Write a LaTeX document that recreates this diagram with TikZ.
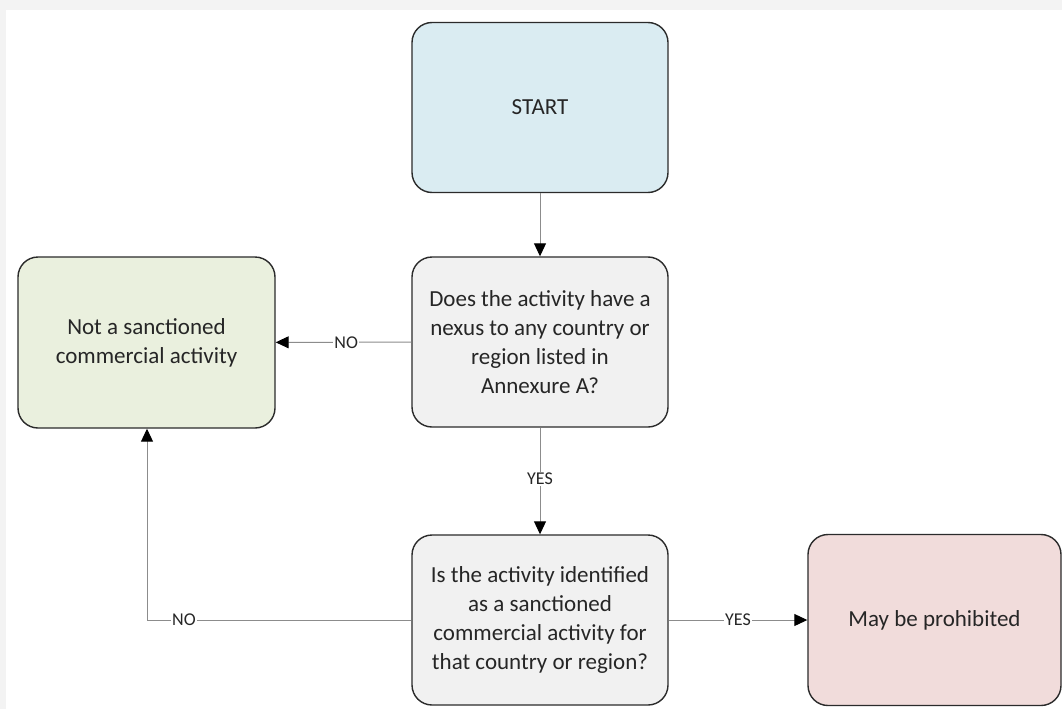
\documentclass[tikz,border=0pt]{standalone}
\usepackage{fontspec}
\setmainfont{Carlito}
\usetikzlibrary{arrows.meta}
\definecolor{pagegray}{HTML}{F3F3F3}
\definecolor{boxline}{HTML}{2B2B2B}
\definecolor{txt}{HTML}{262626}
\definecolor{linkgray}{HTML}{8C8C8C}
\definecolor{startfill}{HTML}{DAECF2}
\definecolor{nofill}{HTML}{EAF0DE}
\definecolor{qfill}{HTML}{F1F1F1}
\definecolor{mayfill}{HTML}{F1DCDB}
\begin{document}
\begin{tikzpicture}[x=1pt,y=-1pt,
  flowbox/.style={draw=boxline,line width=1.4pt,rounded corners=20pt,
    minimum width=256pt,minimum height=170pt,align=center,text=txt,
    font=\fontsize{23}{29}\selectfont,inner sep=0pt},
  link/.style={draw=linkgray,line width=1pt,
    -{Triangle[length=13pt,width=12pt,color=black]}},
  plain/.style={draw=linkgray,line width=1pt},
  lbl/.style={fill=white,text=txt,font=\fontsize{18}{20}\selectfont,inner sep=1pt}]
  % page background with white canvas
  \fill[pagegray] (0,0) rectangle (1062,709);
  \fill[white] (6,10) rectangle (1062,709);
  \useasboundingbox (0,0) rectangle (1062,709);

  % boxes
  \node[flowbox,fill=startfill] (start) at (540,107.5) {START};
  \node[flowbox,fill=qfill] (q1) at (540,342)
    {Does the activity have a\\nexus to any country or\\region listed in\\Annexure A?};
  \node[flowbox,fill=nofill,minimum width=257pt,minimum height=171pt] (not) at (146.5,342.5)
    {Not a sanctioned\\commercial activity};
  \node[flowbox,fill=qfill] (q2) at (540,620)
    {Is the activity identified\\as a sanctioned\\commercial activity for\\that country or region?};
  \node[flowbox,fill=mayfill,minimum width=253pt,minimum height=171pt] (may) at (934.5,620)
    {May be prohibited};

  % connectors
  \draw[link] (start) -- (q1);
  \draw[link] (q1) -- node[lbl,pos=0.48] {NO} (not);
  \draw[link] (q1) -- node[lbl,pos=0.48] {YES} (q2);
  \draw[link] (q2) -- node[lbl,pos=0.5] {YES} (may);
  \coordinate (bend) at (147,620);
  \draw[plain] (q2.west) -- node[lbl,pos=0.86] {NO} (bend);
  \draw[link] (bend) -- (not.south -| bend);
\end{tikzpicture}
\end{document}
